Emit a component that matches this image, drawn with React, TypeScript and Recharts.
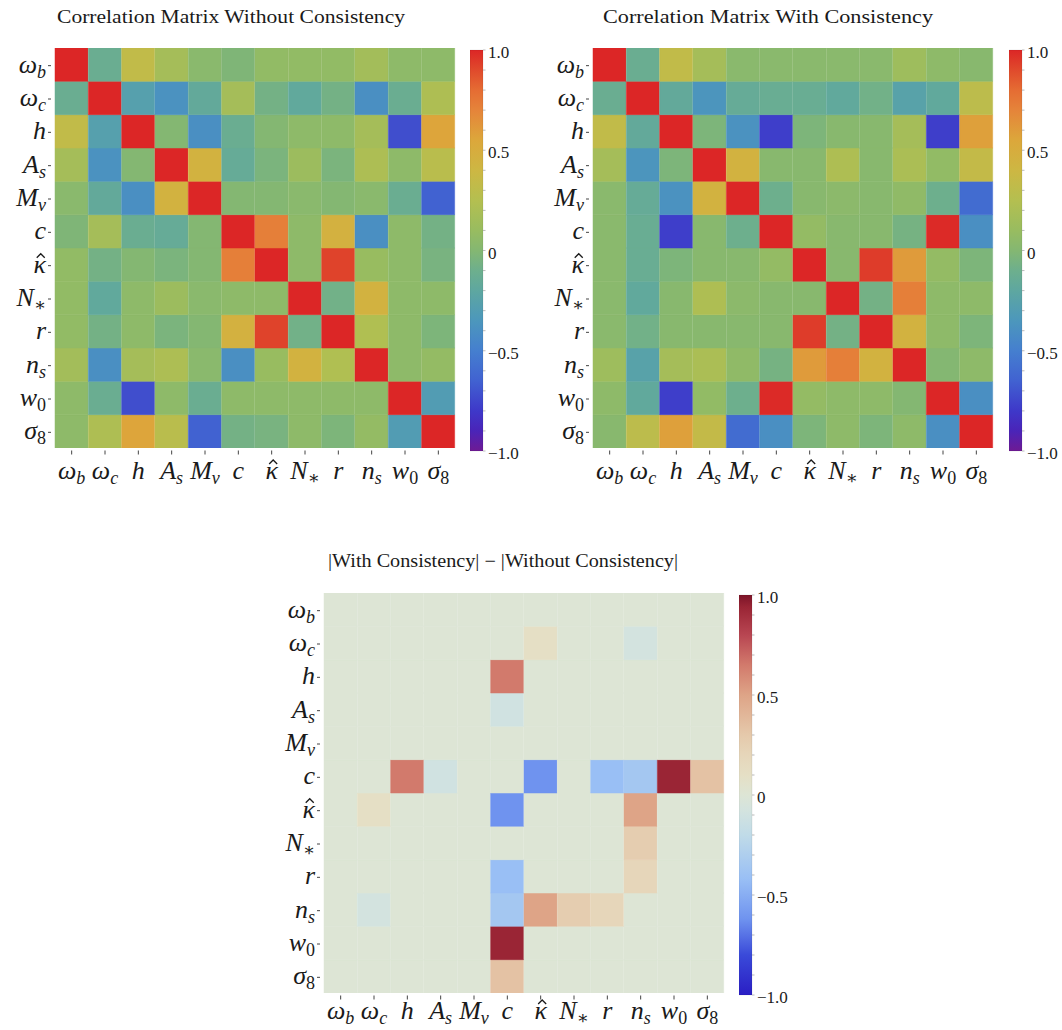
import React from 'react';
import { BarChart, Bar, Cell, XAxis, YAxis } from 'recharts';

// parameter labels (symbol + accent + subscript), rows/cols top→bottom / left→right
const paramKeys = ['omega_b', 'omega_c', 'h', 'A_s', 'M_nu', 'c', 'kappa', 'N_star', 'r', 'n_s', 'w_0', 'sigma_8'];
const paramSymbols = ['ω', 'ω', 'h', 'A', 'M', 'c', 'κ', 'N', 'r', 'n', 'w', 'σ'];
const paramHats = [false, false, false, false, false, false, true, false, false, false, false, false];
const paramSubs = ['b', 'c', '', 's', 'ν', '', '', '∗', '', 's', '0', '8'];

// Correlation matrix without consistency
const corrWithout = [
  [1, -0.12, 0.33, 0.17, 0.03, -0.02, 0.07, 0.07, 0.07, 0.16, 0.05, 0.05],
  [-0.12, 1, -0.27, -0.38, -0.17, 0.17, -0.07, -0.18, -0.07, -0.4, -0.12, 0.22],
  [0.33, -0.27, 1, 0.0, -0.4, -0.12, 0.0, 0.05, 0.05, 0.17, -0.72, 0.56],
  [0.17, -0.38, 0.0, 1, 0.45, -0.15, -0.04, 0.12, -0.04, 0.21, 0.05, 0.28],
  [0.03, -0.17, -0.4, 0.45, 1, 0.0, 0.0, 0.03, 0.0, 0.03, -0.12, -0.65],
  [-0.02, 0.17, -0.12, -0.15, 0.0, 1, 0.72, 0.05, 0.46, -0.4, 0.05, -0.07],
  [0.07, -0.07, 0.0, -0.04, 0.0, 0.72, 1, 0.05, 0.92, 0.1, 0.05, -0.05],
  [0.07, -0.18, 0.05, 0.12, 0.03, 0.05, 0.05, 1, -0.08, 0.45, 0.05, 0.05],
  [0.07, -0.07, 0.05, -0.04, 0.0, 0.46, 0.92, -0.08, 1, 0.23, 0.05, -0.03],
  [0.16, -0.4, 0.17, 0.21, 0.03, -0.4, 0.1, 0.45, 0.23, 1, 0.05, 0.08],
  [0.05, -0.12, -0.72, 0.05, -0.12, 0.05, 0.05, 0.05, 0.05, 0.05, 1, -0.3],
  [0.05, 0.22, 0.56, 0.28, -0.65, -0.07, -0.05, 0.05, -0.03, 0.08, -0.3, 1],
];

// Correlation matrix with consistency
const corrWith = [
  [1, -0.12, 0.33, 0.17, 0.03, 0.03, 0.03, 0.03, 0.03, 0.13, 0.05, 0.02],
  [-0.12, 1, -0.17, -0.36, -0.15, -0.13, -0.13, -0.18, -0.08, -0.25, -0.18, 0.3],
  [0.33, -0.17, 1, -0.03, -0.38, -0.78, -0.03, 0.02, 0.02, 0.17, -0.78, 0.58],
  [0.17, -0.36, -0.03, 1, 0.45, 0.02, 0.02, 0.22, 0.02, 0.2, 0.07, 0.34],
  [0.03, -0.15, -0.38, 0.45, 1, -0.1, 0.02, 0.04, 0.02, 0.06, -0.1, -0.6],
  [0.03, -0.13, -0.78, 0.02, -0.1, 1, 0.08, 0.02, 0.02, -0.06, 0.99, -0.4],
  [0.03, -0.13, -0.03, 0.02, 0.02, 0.08, 1, 0.02, 0.94, 0.6, 0.08, -0.03],
  [0.03, -0.18, 0.02, 0.22, 0.04, 0.02, 0.02, 1, -0.07, 0.72, 0.05, 0.05],
  [0.03, -0.08, 0.02, 0.02, 0.02, 0.02, 0.94, -0.07, 1, 0.45, 0.05, -0.03],
  [0.13, -0.25, 0.17, 0.2, 0.06, -0.06, 0.6, 0.72, 0.45, 1, 0.0, 0.05],
  [0.05, -0.18, -0.78, 0.07, -0.1, 0.99, 0.08, 0.05, 0.05, 0.0, 1, -0.4],
  [0.02, 0.3, 0.58, 0.34, -0.6, -0.4, -0.03, 0.05, -0.03, 0.05, -0.4, 1],
];

// |With| - |Without|, only the significant entries are shown
const corrDiff = [
  [0, 0, 0, 0, 0, 0, 0, 0, 0, 0, 0, 0],
  [0, 0, 0, 0, 0, 0, 0.1, 0, 0, -0.08, 0, 0],
  [0, 0, 0, 0, 0, 0.65, 0, 0, 0, 0, 0, 0],
  [0, 0, 0, 0, 0, -0.1, 0, 0, 0, 0, 0, 0],
  [0, 0, 0, 0, 0, 0, 0, 0, 0, 0, 0, 0],
  [0, 0, 0.65, -0.1, 0, 0, -0.62, 0, -0.42, -0.36, 0.94, 0.34],
  [0, 0.1, 0, 0, 0, -0.62, 0, 0, 0, 0.5, 0, 0],
  [0, 0, 0, 0, 0, 0, 0, 0, 0, 0.27, 0, 0],
  [0, 0, 0, 0, 0, -0.42, 0, 0, 0, 0.2, 0, 0],
  [0, -0.08, 0, 0, 0, -0.36, 0.5, 0.27, 0.2, 0, 0, 0],
  [0, 0, 0, 0, 0, 0.94, 0, 0, 0, 0, 0, 0],
  [0, 0, 0, 0, 0, 0.34, 0, 0, 0, 0, 0, 0],
];

const cbMajor = [1, 0.5, 0, -0.5, -1];
const cbLabels = ['1.0', '0.5', '0', '−0.5', '−1.0'];

type Stop = [number, string];

const spectralStops: Stop[] = [
  [-1.0, '#6e1a94'],
  [-0.9, '#4a24b8'],
  [-0.8, '#3e38c9'],
  [-0.65, '#4162d1'],
  [-0.5, '#457fcf'],
  [-0.35, '#4c97bc'],
  [-0.2, '#5ea7a0'],
  [-0.1, '#6daf8d'],
  [0.0, '#84b772'],
  [0.1, '#98bc60'],
  [0.25, '#b4bf50'],
  [0.4, '#cdb743'],
  [0.55, '#dca73b'],
  [0.7, '#e5843a'],
  [0.8, '#e56c33'],
  [0.9, '#e04a2c'],
  [1.0, '#dc2626'],
];

const coolwarmStops: Stop[] = [
  [-1.0, '#2a1ec4'],
  [-0.8, '#3a4ad9'],
  [-0.62, '#6f93ef'],
  [-0.42, '#99bff5'],
  [-0.2, '#c0dbe8'],
  [-0.08, '#d3e3df'],
  [0.0, '#dde5d5'],
  [0.1, '#e5dfc5'],
  [0.2, '#e6d6ba'],
  [0.3, '#e5c9ab'],
  [0.5, '#dea487'],
  [0.65, '#d27a6c'],
  [0.8, '#b84652'],
  [0.94, '#9a2535'],
  [1.0, '#7c1428'],
];

const hex = (c: string) => [1, 3, 5].map((k) => parseInt(c.slice(k, k + 2), 16));

function makeCmap(stops: Stop[]) {
  return (v: number) => {
    if (v <= stops[0][0]) return stops[0][1];
    for (let k = 1; k < stops.length; k++) {
      const [v1, c1] = stops[k];
      if (v <= v1) {
        const [v0, c0] = stops[k - 1];
        const t = (v - v0) / (v1 - v0);
        const a = hex(c0);
        const b = hex(c1);
        const m = a.map((x, i) => Math.round(x + (b[i] - x) * t));
        return `rgb(${m[0]},${m[1]},${m[2]})`;
      }
    }
    return stops[stops.length - 1][1];
  };
}

const spectral = makeCmap(spectralStops);
const coolwarm = makeCmap(coolwarmStops);

const FONT = "'Liberation Serif', 'DejaVu Serif', serif";
const LABEL_SIZE = 26;

function MathLabel({ i, x, y, anchor }: { i: number; x: number; y: number; anchor: 'middle' | 'end' }) {
  const sub = paramSubs[i];
  const upright = /[0-9]/.test(sub);
  // hat drawn as a small stroke above the glyph
  const glyphW = LABEL_SIZE * 0.52;
  const hx = (anchor === 'middle' ? x : x - glyphW / 2) + 1.5;
  return (
    <g>
      <text x={x} y={y} textAnchor={anchor} fontFamily={FONT} fontSize={LABEL_SIZE} fill="#1a1a1a">
        <tspan fontStyle="italic">{paramSymbols[i]}</tspan>
        {sub && (
          <tspan fontSize={18} dy={5} fontStyle={upright ? 'normal' : 'italic'}>
            {sub}
          </tspan>
        )}
      </text>
      {paramHats[i] && (
        <path
          d={`M${hx - 4},${y - 15} L${hx},${y - 19} L${hx + 4},${y - 15}`}
          fill="none"
          stroke="#1a1a1a"
          strokeWidth={1.3}
        />
      )}
    </g>
  );
}

const rowTicks = paramKeys.map((_, i) => 11.5 - i);
const cellData = paramKeys.map((name) => {
  const d: Record<string, any> = { name };
  paramKeys.forEach((_, i) => (d[`r${i}`] = 1));
  return d;
});
const stackOrder = paramKeys.map((_, i) => 11 - i);

function YTick(props: any) {
  const { x, y, payload } = props;
  const i = 11 - Math.floor(payload.value);
  return (
    <g>
      <line x1={x - 7} x2={x - 4} y1={y + 1} y2={y + 1} stroke="#444" strokeWidth={1} />
      <MathLabel i={i} x={x - 9} y={y + 8} anchor="end" />
    </g>
  );
}

function XTick(props: any) {
  const { x, y, payload, labelDy } = props;
  const i = paramKeys.indexOf(payload.value);
  return (
    <g>
      <line x1={x} x2={x} y1={y + 2.5} y2={y + 6.5} stroke="#444" strokeWidth={1} />
      <MathLabel i={i} x={x} y={y + labelDy} anchor="middle" />
    </g>
  );
}

function Heatmap({
  left,
  top,
  matrix,
  cmap,
  labelDy = 31,
}: {
  left: number;
  top: number;
  matrix: number[][];
  cmap: (v: number) => string;
  labelDy?: number;
}) {
  return (
    <div style={{ position: 'absolute', left: left - 55, top: top - 10 }}>
      <BarChart
        width={460}
        height={470}
        data={cellData}
        margin={{ top: 10, right: 5, bottom: 0, left: 0 }}
        barCategoryGap={0}
        barGap={0}
      >
        <XAxis
          dataKey="name"
          interval={0}
          height={60}
          tickSize={0}
          tickMargin={0}
          axisLine={false}
          tickLine={false}
          tick={<XTick labelDy={labelDy} />}
        />
        <YAxis
          type="number"
          domain={[0, 12]}
          ticks={rowTicks}
          allowDataOverflow
          width={55}
          tickSize={0}
          tickMargin={0}
          axisLine={false}
          tickLine={false}
          tick={<YTick />}
        />
        {stackOrder.map((i) => (
          <Bar key={i} dataKey={`r${i}`} stackId="m" isAnimationActive={false}>
            {matrix[i].map((v, j) => (
              <Cell key={j} fill={cmap(v)} stroke={cmap(v)} strokeWidth={0.5} />
            ))}
          </Bar>
        ))}
      </BarChart>
    </div>
  );
}

const cbTicks = Array.from({ length: 21 }, (_, k) => Math.round((-1 + k * 0.1) * 10) / 10);

function CbTick(props: any) {
  const { x, y, payload } = props;
  const k = cbMajor.indexOf(payload.value);
  return (
    <g>
      <line x1={x} x2={x + 2.5} y1={y} y2={y} stroke="#aaa" strokeWidth={0.8} />
      {k >= 0 && (
        <text x={x + 5} y={y + 8} fontFamily={FONT} fontSize={17} fill="#1a1a1a">
          {cbLabels[k]}
        </text>
      )}
    </g>
  );
}

function Colorbar({ left, top, height, gradId }: { left: number; top: number; height: number; gradId: string }) {
  return (
    <div style={{ position: 'absolute', left, top: top - 20 }}>
      <BarChart
        width={58}
        height={height + 40}
        data={[{ name: 'cb', span: [-1, 1] }]}
        margin={{ top: 20, right: 0, bottom: 20, left: 0 }}
        barCategoryGap={0}
      >
        <XAxis dataKey="name" hide />
        <YAxis
          orientation="right"
          type="number"
          domain={[-1, 1]}
          ticks={cbTicks}
          interval={0}
          width={45}
          tickSize={0}
          tickMargin={0}
          axisLine={false}
          tickLine={false}
          tick={<CbTick />}
        />
        <Bar dataKey="span" fill={`url(#${gradId})`} stroke="rgba(0,0,0,0.12)" strokeWidth={0.6} isAnimationActive={false} />
      </BarChart>
    </div>
  );
}

function Gradient({ id, stops }: { id: string; stops: Stop[] }) {
  return (
    <linearGradient id={id} x1="0" y1="0" x2="0" y2="1">
      {[...stops].reverse().map(([v, c]) => (
        <stop key={v} offset={(1 - v) / 2} stopColor={c} />
      ))}
    </linearGradient>
  );
}

export default function App() {
  return (
    <div
      style={{
        position: 'absolute',
        left: 0,
        top: 0,
        width: 1062,
        height: 1030,
        overflow: 'hidden',
        background: '#fff',
      }}
    >
      <svg width={0} height={0} style={{ position: 'absolute' }}>
        <defs>
          <Gradient id="cb-spectral" stops={spectralStops} />
          <Gradient id="cb-coolwarm" stops={coolwarmStops} />
        </defs>
      </svg>
      <svg width={1062} height={1030} style={{ position: 'absolute', left: 0, top: 0 }}>
        <text x={57} y={23} fontFamily={FONT} fontSize={18} fill="#1a1a1a" textLength={348} lengthAdjust="spacingAndGlyphs">
          Correlation Matrix Without Consistency
        </text>
        <text x={603} y={23} fontFamily={FONT} fontSize={18} fill="#1a1a1a" textLength={330} lengthAdjust="spacingAndGlyphs">
          Correlation Matrix With Consistency
        </text>
        <text x={328} y={567} fontFamily={FONT} fontSize={18} fill="#1a1a1a" textLength={350} lengthAdjust="spacingAndGlyphs">
          |With Consistency| − |Without Consistency|
        </text>
      </svg>
      <Heatmap left={55} top={48} matrix={corrWithout} cmap={spectral} />
      <Colorbar left={470} top={50} height={401} gradId="cb-spectral" />
      <Heatmap left={593} top={48} matrix={corrWith} cmap={spectral} />
      <Colorbar left={1009} top={50} height={401} gradId="cb-spectral" />
      <Heatmap left={324} top={593} matrix={corrDiff} cmap={coolwarm} labelDy={26} />
      <Colorbar left={739} top={595} height={400} gradId="cb-coolwarm" />
    </div>
  );
}
